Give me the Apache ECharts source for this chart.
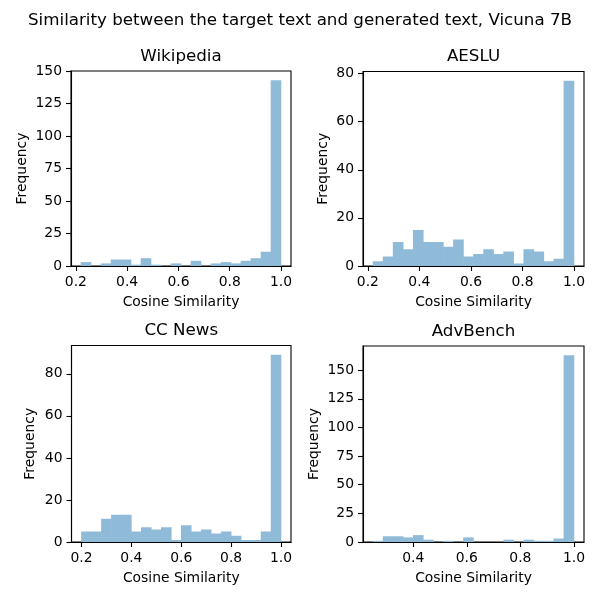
<!DOCTYPE html>
<html>
<head>
<meta charset="utf-8">
<script src="https://cdn.jsdelivr.net/npm/echarts@6/dist/echarts.min.js"></script>
<style>html,body{margin:0;padding:0;background:#fff}#c{width:600px;height:600px}</style>
</head>
<body>
<div id="c"></div>
<script>
var suptitle = "Similarity between the target text and generated text, Vicuna 7B";
var panelTitles = ["Wikipedia", "AESLU", "CC News", "AdvBench"];
var xLabel = "Cosine Similarity";
var yLabel = "Frequency";

// histogram counts (20 bins each) and bin range [min, max]
var wikiCounts  = [3,0,2,5,5,1,6,1,0,2,0,4,0,2,3,2,4,6,11,143];
var wikiRange   = [0.22, 1.0];
var aesluCounts = [2,4,10,7,15,10,10,8,11,4,5,7,5,6,1,7,6,2,3,77];
var aesluRange  = [0.22, 1.0];
var ccCounts    = [5,5,11,13,13,5,7,6,7,1,8,5,6,4,5,3,1,1,5,89];
var ccRange     = [0.20, 1.0];
var advCounts   = [1,5,5,4,6,2,0,1,0,4,0,0,0,2,0,2,1,1,3,163];
var advRange    = [0.25, 1.0];

var xTicks = [[0.2,0.4,0.6,0.8,1.0],[0.2,0.4,0.6,0.8,1.0],[0.2,0.4,0.6,0.8,1.0],[0.4,0.6,0.8,1.0]];
var yTicks = [[0,25,50,75,100,125,150],[0,20,40,60,80],[0,20,40,60,80],[0,25,50,75,100,125,150]];

var allCounts = [wikiCounts, aesluCounts, ccCounts, advCounts];
var allRanges = [wikiRange, aesluRange, ccRange, advRange];

var grids = [
  {left: 71, top: 71, width: 220, height: 195},
  {left: 363, top: 71.5, width: 221, height: 194.5},
  {left: 71.5, top: 345.5, width: 219.5, height: 196.5},
  {left: 363, top: 346, width: 221, height: 196}
];
var yNameGaps = [42, 33, 34, 42];

var FONT = "DejaVu Sans";
var color = "#8fbbd9";

var option = {
  backgroundColor: "#fff",
  animation: false,
  title: [],
  grid: [],
  xAxis: [],
  yAxis: [],
  series: []
};

option.title.push({
  text: suptitle, left: 300, top: 12, textAlign: "center", padding: 0,
  textStyle: {fontFamily: FONT, fontSize: 16.7, fontWeight: "normal", color: "#000"}
});

for (var i = 0; i < 4; i++) {
  var g = grids[i];
  var cnt = allCounts[i], rg = allRanges[i];
  var n = cnt.length, w = (rg[1] - rg[0]) / n;
  var span = rg[1] - rg[0];
  var ymax = Math.max.apply(null, cnt) * 1.05;
  var data = [];
  for (var k = 0; k < n; k++) {
    data.push([rg[0] + k * w, rg[0] + (k + 1) * w, cnt[k]]);
  }
  option.title.push({
    text: panelTitles[i], left: g.left + g.width / 2, top: g.top - 23, textAlign: "center", padding: 0,
    textStyle: {fontFamily: FONT, fontSize: 16.7, fontWeight: "normal", color: "#000"}
  });
  option.grid.push({
    left: g.left, top: g.top, width: g.width, height: g.height,
    show: true, borderColor: "#000", borderWidth: 1.1, backgroundColor: "transparent"
  });
  option.xAxis.push({
    type: "value", gridIndex: i, min: rg[0] - 0.05 * span, max: rg[1] + 0.05 * span,
    name: xLabel, nameLocation: "middle", nameGap: 29,
    nameTextStyle: {fontFamily: FONT, fontSize: 13.9, color: "#000"},
    splitLine: {show: false},
    axisLine: {show: true, onZero: false, lineStyle: {color: "#000", width: 1.1}},
    axisTick: {show: true, length: 5, customValues: xTicks[i], lineStyle: {color: "#000", width: 1.1}},
    axisLabel: {customValues: xTicks[i], margin: 9, fontFamily: FONT, fontSize: 13.9, color: "#000",
      formatter: function (v) { return v.toFixed(1); }}
  });
  option.yAxis.push({
    type: "value", gridIndex: i, min: 0, max: ymax,
    name: yLabel, nameLocation: "middle", nameGap: yNameGaps[i],
    nameTextStyle: {fontFamily: FONT, fontSize: 13.9, color: "#000"},
    splitLine: {show: false},
    axisLine: {show: true, onZero: false, lineStyle: {color: "#000", width: 1.1}},
    axisTick: {show: true, length: 5, customValues: yTicks[i], lineStyle: {color: "#000", width: 1.1}},
    axisLabel: {customValues: yTicks[i], margin: 9, fontFamily: FONT, fontSize: 13.9, color: "#000"}
  });
  option.series.push({
    type: "custom", xAxisIndex: i, yAxisIndex: i, clip: true,
    data: data,
    encode: {x: [0, 1], y: 2},
    renderItem: function (params, api) {
      var x0 = api.value(0), x1 = api.value(1), c = api.value(2);
      if (!c) return null;
      var p0 = api.coord([x0, 0]);
      var p1 = api.coord([x1, c]);
      return {
        type: "rect",
        shape: {x: p0[0] - 0.3, y: p1[1], width: p1[0] - p0[0] + 0.6, height: p0[1] - p1[1]},
        style: {fill: color}
      };
    }
  });
}

var chart = echarts.init(document.getElementById("c"), null, {renderer: "canvas"});
chart.setOption(option);
</script>
</body>
</html>
